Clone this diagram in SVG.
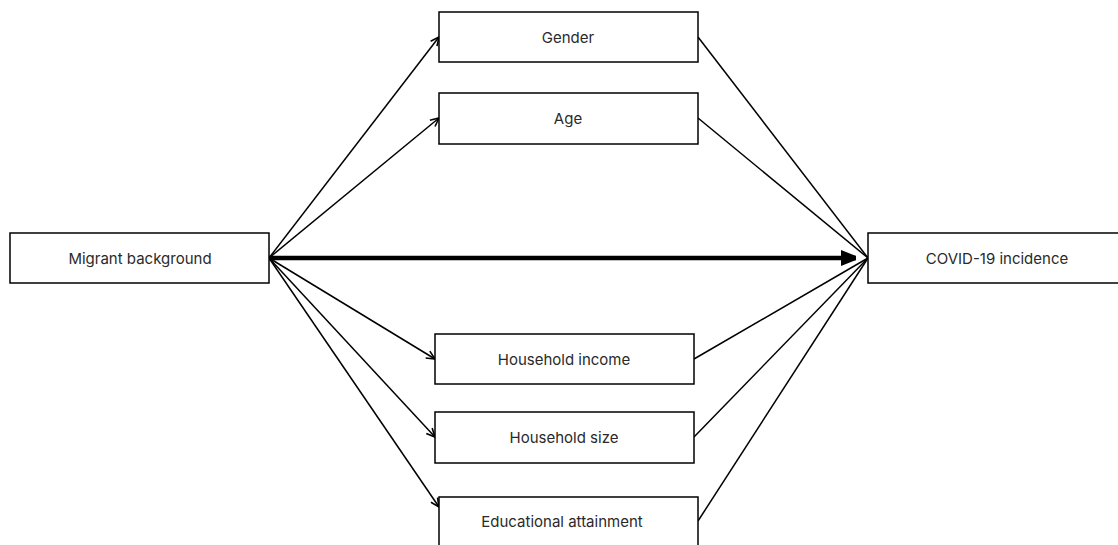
<svg xmlns="http://www.w3.org/2000/svg" width="1118" height="545" viewBox="0 0 1118 545">
<style>
.box{fill:#fff;stroke:#000;stroke-width:1.5}
.lbl{font-family:Inter,"Open Sans",sans-serif;font-size:15px;fill:#2a2a2a;text-anchor:middle;dominant-baseline:central}
.edge{stroke:#000;stroke-width:1.5;fill:none}
</style>
<defs>
<marker id="arr" viewBox="0 0 10 10" refX="9.5" refY="5" markerWidth="10" markerHeight="10" markerUnits="userSpaceOnUse" orient="auto">
<path d="M1,1 L9.5,5 L1,9" fill="none" stroke="#000" stroke-width="1.6"/>
</marker>
<marker id="big" viewBox="0 0 15 18" refX="15" refY="9" markerWidth="15" markerHeight="18" markerUnits="userSpaceOnUse" orient="auto">
<path d="M0,1 L15,7 L15,11 L0,17 Z" fill="#000"/>
</marker>
</defs>
<g id="connectors">
<line class="edge" x1="269" y1="258" x2="439" y2="37" marker-end="url(#arr)"/>
<line class="edge" x1="269" y1="258" x2="439" y2="118" marker-end="url(#arr)"/>
<line class="edge" x1="269" y1="258" x2="435" y2="359" marker-end="url(#arr)"/>
<line class="edge" x1="269" y1="258" x2="435" y2="437" marker-end="url(#arr)"/>
<line class="edge" x1="269" y1="258" x2="439" y2="507" marker-end="url(#arr)"/>
<line x1="269" y1="258" x2="856" y2="258" stroke="#000" stroke-width="4.5" marker-end="url(#big)"/>
<line class="edge" x1="698" y1="37" x2="868" y2="258"/>
<line class="edge" x1="698" y1="118" x2="868" y2="258"/>
<line class="edge" x1="694" y1="359" x2="868" y2="258"/>
<line class="edge" x1="694" y1="437" x2="868" y2="258"/>
<line class="edge" x1="698" y1="521" x2="868" y2="258"/>
</g>
<g id="migrant"><rect class="box" x="10" y="233" width="259" height="50"/><text class="lbl" x="140" y="258">Migrant background</text></g>
<g id="gender"><rect class="box" x="439" y="12" width="259" height="50"/><text class="lbl" x="568" y="37">Gender</text></g>
<g id="age"><rect class="box" x="439" y="93" width="259" height="51"/><text class="lbl" x="568" y="118">Age</text></g>
<g id="covid"><rect class="box" x="868" y="233" width="270" height="50"/><text class="lbl" x="997" y="258">COVID-19 incidence</text></g>
<g id="income"><rect class="box" x="435" y="334" width="259" height="50"/><text class="lbl" x="564" y="359">Household income</text></g>
<g id="size"><rect class="box" x="435" y="412" width="259" height="51"/><text class="lbl" x="564" y="437">Household size</text></g>
<g id="edu"><rect class="box" x="439" y="497" width="259" height="60"/><text class="lbl" x="562" y="521">Educational attainment</text></g>
</svg>
